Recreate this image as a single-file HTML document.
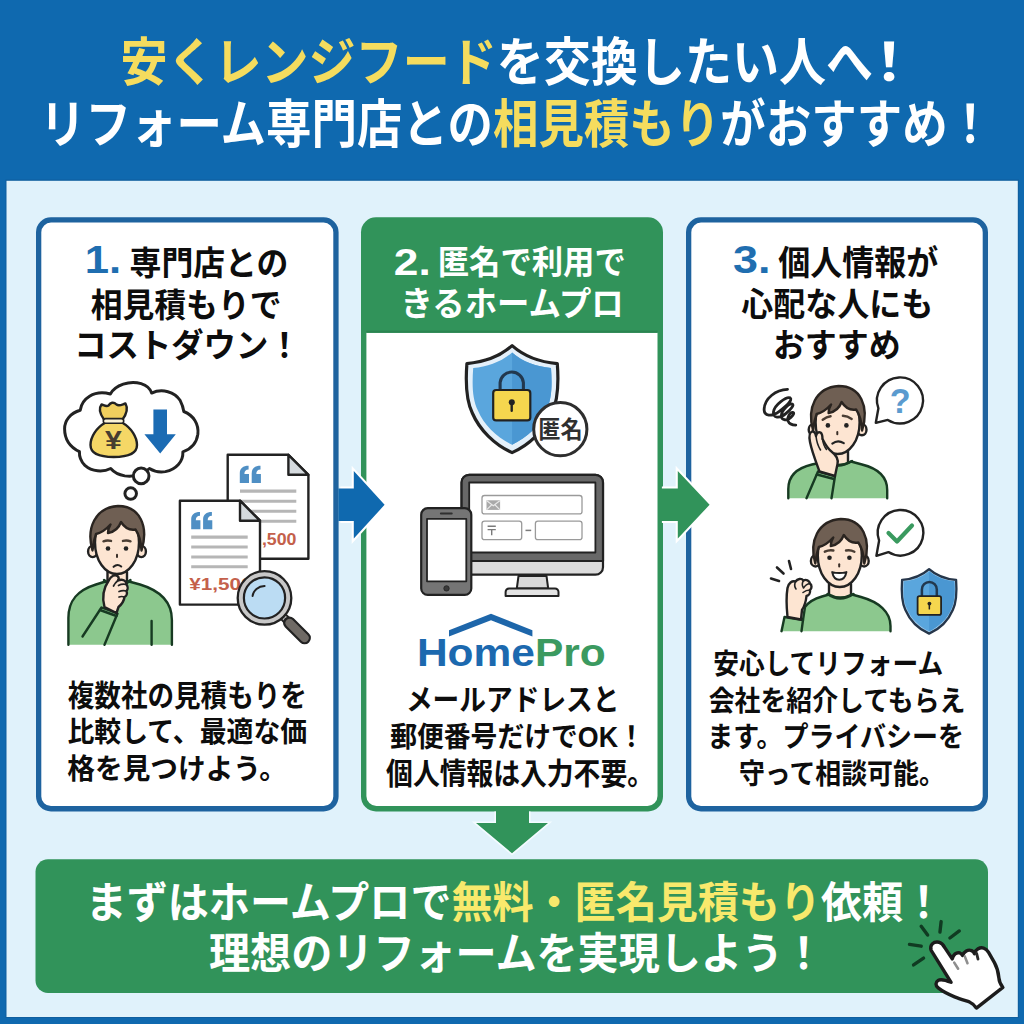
<!DOCTYPE html>
<html lang="ja">
<head>
<meta charset="utf-8">
<title>安くレンジフードを交換したい人へ！</title>
<style>
html,body{margin:0;padding:0;background:#0f69af;font-family:"Liberation Sans","Noto Sans CJK JP",sans-serif;}
svg{display:block}
svg text{font-family:"Liberation Sans","Noto Sans CJK JP",sans-serif;font-weight:bold}
</style>
</head>
<body>
<svg width="1024" height="1024" viewBox="0 0 1024 1024">
<defs>
<clipPath id="below"><rect x="400" y="811.6" width="224" height="47.6"/></clipPath>
<linearGradient id="hp" x1="0" x2="1" y1="0" y2="0"><stop offset="0" stop-color="#1b67ad"/><stop offset="1" stop-color="#1f74bb"/></linearGradient>
</defs>
<rect width="1024" height="1024" fill="#0f69af"/>
<rect x="5.5" y="179.5" width="1013.5" height="838.5" fill="#0f5f9f"/>
<rect x="6.5" y="180.8" width="1011.3" height="836.2" fill="#e0f2fb"/>
<rect x="38.65" y="219.95000000000002" width="297.3" height="588.8" rx="12.35" fill="#fff" stroke="#1e639f" stroke-width="5.3"/>
<rect x="688.65" y="219.95000000000002" width="296.7" height="588.8" rx="12.35" fill="#fff" stroke="#1e639f" stroke-width="5.3"/>
<rect x="361" y="217.3" width="302" height="594.2" rx="15" fill="#31935a"/>
<path d="M366.4 332.8H657.5V796a10 10 0 0 1-10 10H376.4a10 10 0 0 1-10-10z" fill="#fff"/>
<rect x="366.4" y="330.6" width="291.1" height="2.2" fill="#2a8450"/>
<path d="M342.4 488.6H353.8V471.1L384.6 504.8L353.8 538.5V521.0H342.4z" fill="#fff" stroke="#fff" stroke-width="4.2" stroke-linejoin="miter"/><path d="M338.4 488.6H353.8V471.1L384.6 504.8L353.8 538.5V521.0H338.4z" fill="#0f69af"/>
<path d="M664.0 488.6H677.8V471.1L709.6 504.8L677.8 538.5V521.0H664.0z" fill="#fff" stroke="#fff" stroke-width="4.2" stroke-linejoin="miter"/><path d="M660.0 488.6H677.8V471.1L709.6 504.8L677.8 538.5V521.0H660.0z" fill="#31935a"/>
<path d="M496 806H529V823H548L512 853.3L476 823H496z" fill="none" stroke="#f3fbff" stroke-width="3.2" clip-path="url(#below)"/>
<path d="M496 806H529V823H548L512 853.3L476 823H496z" fill="#31935a"/>
<rect x="35.5" y="859.3" width="952.5" height="133.6" rx="12.5" fill="#31935a"/>
<g transform="translate(56 374) scale(0.15625)" fill="#fff" stroke="#222222" stroke-width="19" stroke-linejoin="round"><path d="M155 232C165 160 240 100 348 128C380 70 470 40 545 62C585 75 605 100 612 122C680 90 760 115 795 170C808 195 815 220 818 240C880 265 915 320 908 385C900 440 865 480 812 498C815 560 770 610 700 625C660 632 625 622 598 605C560 640 500 660 440 652C400 645 370 628 350 605C300 630 230 625 185 585C160 560 148 530 150 497C95 470 55 420 55 350C55 300 90 250 155 232z"/><circle cx="545" cy="652" r="50"/><circle cx="478" cy="765" r="37"/></g><path d="M104 419.5C100 414 98.5 408.5 101.5 404.5C104.5 405.5 106.5 407 108.5 405.5C110.5 402.5 113.5 401.5 116.5 404.5C119 406.5 122 404.5 125.5 403.5C128 408 126.5 414 122.5 419.5z" fill="#f0cf5e" stroke="#222222" stroke-width="2.4" stroke-linecap="round" stroke-linejoin="round"/><path d="M105.5 422.5C96 428 90.5 437 90.5 445C90.5 453.5 98 457 113.7 457C129.5 457 137 453.5 137 445C137 437 131.5 428 122 422.5z" fill="#f5d766" stroke="#222222" stroke-width="2.4" stroke-linecap="round" stroke-linejoin="round"/><rect x="103.3" y="418.6" width="20.4" height="4.6" rx="2.3" fill="#fbf3d6" stroke="#222222" stroke-width="1.6" stroke-linecap="round" stroke-linejoin="round"/><text x="105.1" y="448.8" font-size="26.2" fill="#473d30" textLength="16.8" lengthAdjust="spacingAndGlyphs">¥</text><path d="M153.4 409.6H167V434.3H175.8L160.2 453.6L144.4 434.3H153.4z" fill="#1b6bb3"/><path d="M227.7 454.8H288.4L308.4 474.8V558.7H227.7z" fill="#fff" stroke="#222222" stroke-width="2.4" stroke-linecap="round" stroke-linejoin="round"/><path d="M288.4 454.8V474.8H308.4z" fill="#d5dade" stroke="#222222" stroke-width="2.4" stroke-linecap="round" stroke-linejoin="round"/><g fill="#4f8fc4" transform="translate(239.8 465.8)"><path d="M0 17.2V7.6C0 2.6 3.2 0 8.8 0V3.7C6 3.7 4.6 5.2 4.6 8.2H9.2V17.2z"/><path d="M0 17.2V7.6C0 2.6 3.2 0 8.8 0V3.7C6 3.7 4.6 5.2 4.6 8.2H9.2V17.2z" transform="translate(11.9 0)"/></g><path d="M240 491.1H296.3M240 501.2H296.3M240 511.3H296.3M240 521.2H296.3" stroke="#b6b6b6" stroke-width="3.1" fill="none"/><text x="261.9" y="545.2" font-size="17.3" fill="#c4604b" textLength="34.6" lengthAdjust="spacingAndGlyphs">,500</text><path d="M179.9 500.7H240L260 520.7V604.6H179.9z" fill="#fff" stroke="#222222" stroke-width="2.4" stroke-linecap="round" stroke-linejoin="round"/><path d="M240 500.7V520.7H260z" fill="#d5dade" stroke="#222222" stroke-width="2.4" stroke-linecap="round" stroke-linejoin="round"/><g fill="#4f8fc4" transform="translate(191.2 512.0)"><path d="M0 17.2V7.6C0 2.6 3.2 0 8.8 0V3.7C6 3.7 4.6 5.2 4.6 8.2H9.2V17.2z"/><path d="M0 17.2V7.6C0 2.6 3.2 0 8.8 0V3.7C6 3.7 4.6 5.2 4.6 8.2H9.2V17.2z" transform="translate(11.9 0)"/></g><path d="M191.2 537.1H247.7M191.2 547H247.7M191.2 557H247.7M191.2 566.7H247.7" stroke="#b6b6b6" stroke-width="3.1" fill="none"/><text x="189.2" y="590.4" font-size="17.3" fill="#c4604b" textLength="63.2" lengthAdjust="spacingAndGlyphs">¥1,500</text><path d="M283.6 617L289.2 622.6" fill="none" stroke="#222222" stroke-width="8.6"/><path d="M283.6 617L289.2 622.6" fill="none" stroke="#bdbdbd" stroke-width="4.6"/><path d="M289.3 622.7L304.6 638" fill="none" stroke="#222222" stroke-width="12.6" stroke-linecap="round"/><path d="M289.6 623L304.6 638" fill="none" stroke="#6f6a65" stroke-width="8.2" stroke-linecap="round"/><circle cx="264.5" cy="597.9" r="26.8" fill="#c8c8c8" stroke="#222222" stroke-width="2.3" stroke-linecap="round" stroke-linejoin="round"/><circle cx="264.5" cy="597.9" r="20.6" fill="#bbdcf3" stroke="#222222" stroke-width="2.2" stroke-linecap="round" stroke-linejoin="round"/><path d="M252.6 596C253.3 590.3 258.3 586.2 264.6 586" fill="none" stroke="#222222" stroke-width="2.0" stroke-linecap="round" stroke-linejoin="round"/><path d="M107.5 568V586H127V568z" fill="#fde5d2"/><path d="M107.5 572V584M127 572V583" fill="none" stroke="#222222" stroke-width="2.4" stroke-linecap="round" stroke-linejoin="round"/><g transform="translate(117 548.5) scale(1.0)"><ellipse cx="-24.3" cy="3.0" rx="4.6" ry="5.6" fill="#fde5d2" stroke="#222222" stroke-width="2.4" stroke-linecap="round" stroke-linejoin="round"/><ellipse cx="24.3" cy="3.0" rx="4.6" ry="5.6" fill="#fde5d2" stroke="#222222" stroke-width="2.4" stroke-linecap="round" stroke-linejoin="round"/><path d="M-22 -6C-22 12-12 25.5 0 25.5C12 25.5 22 12 22 -6C22 -24 12 -31 0 -31C-12 -31 -22 -24 -22 -6z" fill="#fde5d2" stroke="#222222" stroke-width="2.4" stroke-linecap="round" stroke-linejoin="round"/><path d="M-24.5 2C-31 -20-22 -41 1 -42.5C23 -42.5 32 -22 24.5 2C24 -7 22 -14 18.5 -19C13 -18 7.5 -21 4 -26.5C2 -21-3 -16.5-9 -15.5C-9 -18.5-8 -21.5-6.5 -24C-11 -19-16.5 -15.5-21 -14.5C-23 -9-24 -3.5-24.5 2z" fill="#6f5f53" stroke="#2a2420" stroke-width="2.4" stroke-linecap="round" stroke-linejoin="round"/><circle cx="-9" cy="0" r="2.3" fill="#222222"/><circle cx="9" cy="0" r="2.3" fill="#222222"/><path d="M-13.5 -7.2Q-10 -8.6-6 -7.6M6 -7.6Q10 -8.6 13.5 -7.2" fill="none" stroke="#4b3e34" stroke-width="2.5" stroke-linecap="round" stroke-linejoin="round"/><path d="M0 6.2V8.6" fill="none" stroke="#3a2f28" stroke-width="2.0" stroke-linecap="round" stroke-linejoin="round"/><path d="M-3.4 18.3Q0.3 14.8 4.2 18" fill="none" stroke="#222222" stroke-width="2.1" stroke-linecap="round" stroke-linejoin="round"/></g><path d="M68.4 644.8V618C68.4 600 78 590 96 584.5L105.5 581.5Q117 590 129 581.5L140 584.5C160 590.5 171.9 601 171.9 620V644.8z" fill="#8cc88e"/><path d="M68.4 644.8V618C68.4 600 78 590 96 584.5L105.5 581.5Q117 590 129 581.5L140 584.5C160 590.5 171.9 601 171.9 620V644.8" fill="none" stroke="#173a22" stroke-width="2.4" stroke-linecap="round" stroke-linejoin="round"/><path d="M151.6 621V644.8" fill="none" stroke="#173a22" stroke-width="2.4" stroke-linecap="round" stroke-linejoin="round"/><path d="M104 580Q117 591.5 130.5 580" fill="none" stroke="#173a22" stroke-width="2.4" stroke-linecap="round" stroke-linejoin="round"/><path d="M82.5 636.5L101.5 607.5L117.5 613.5L104.5 644.8" fill="#8cc88e" stroke="#173a22" stroke-width="2.4" stroke-linecap="round" stroke-linejoin="round"/><path d="M100 610L116.5 616" fill="none" stroke="#173a22" stroke-width="2.4" stroke-linecap="round" stroke-linejoin="round"/><path d="M104.5 607C102 598 103.5 588 109 580C111 576 115 574 117.5 576C119 577 119 579 118 580.5C122 578.5 126.5 580.5 126.5 584.5C128 586.5 128 589.5 126.5 591C127.5 593.5 126.5 596 124.5 597C124 601 121.5 604.5 118.5 607L116.5 613z" fill="#fde5d2" stroke="#222222" stroke-width="2.4" stroke-linecap="round" stroke-linejoin="round"/><path d="M118 580.5C116 582 114.5 584 113.5 586M126.5 584.5Q122 583.5 118.5 585.5M126.5 591Q122.5 590 119 591.5M124.5 597Q121.5 596 119 597" fill="none" stroke="#222222" stroke-width="1.7" stroke-linecap="round" stroke-linejoin="round"/>
<path d="M512.1 345.6C499.9 356.3 483.6 362.2 466.9 363.6C465.5 382.0 465.5 399.1 472.3 413.0C479.6 430.1 494.9 445.1 512.1 452.6C529.3 445.1 544.6 430.1 551.9 413.0C558.7 399.1 558.7 382.0 557.3 363.6C540.6 362.2 524.3 356.3 512.1 345.6z" fill="#e4f0fa" stroke="#222222" stroke-width="3.2" stroke-linecap="round" stroke-linejoin="round"/><path d="M512.1 352.6C501.6 361.8 487.6 366.9 473.2 368.1C472.1 383.9 472.1 398.7 477.9 410.6C484.1 425.3 497.3 438.2 512.1 444.7C526.9 438.2 540.1 425.3 546.3 410.6C552.1 398.7 552.1 383.9 551.0 368.1C536.6 366.9 522.6 361.8 512.1 352.6z" fill="#5aa6dd"/><clipPath id="sh512"><rect x="512.1" y="345.6" width="90.4" height="107.0"/></clipPath><path d="M512.1 352.6C501.6 361.8 487.6 366.9 473.2 368.1C472.1 383.9 472.1 398.7 477.9 410.6C484.1 425.3 497.3 438.2 512.1 444.7C526.9 438.2 540.1 425.3 546.3 410.6C552.1 398.7 552.1 383.9 551.0 368.1C536.6 366.9 522.6 361.8 512.1 352.6z" fill="#4a97d2" clip-path="url(#sh512)"/><path d="M500.1 391.0V382.7A11.7 11.7 0 0 1 523.4 382.7V391.0" fill="none" stroke="#22384e" stroke-width="3.08" stroke-linecap="round" stroke-linejoin="round"/><rect x="493.2" y="390.0" width="37.1" height="30.4" rx="3.0" fill="#f5d64e" stroke="#222222" stroke-width="2.2" stroke-linecap="round" stroke-linejoin="round"/><circle cx="511.8" cy="402.2" r="3.0" fill="#222222"/><rect x="510.5" y="402.2" width="2.4" height="9.7" rx="1.2" fill="#222222"/><circle cx="560.3" cy="429.2" r="26.6" fill="#fff" stroke="#2e2e2e" stroke-width="3.0" stroke-linecap="round" stroke-linejoin="round"/><text x="538.25" y="438.4" font-size="23.6" fill="#303030" textLength="44.3" lengthAdjust="spacingAndGlyphs">匿名</text><rect x="461.6" y="474.9" width="141.4" height="99.8" rx="7.5" fill="#dcdcdc" stroke="#222222" stroke-width="2.2" stroke-linecap="round" stroke-linejoin="round"/><path d="M461.6 561V482.4A7.5 7.5 0 0 1 469.1 474.9H595.5A7.5 7.5 0 0 1 603 482.4V561z" fill="#686868" stroke="#222222" stroke-width="2.2" stroke-linecap="round" stroke-linejoin="round"/><rect x="469.2" y="482.5" width="126.2" height="70" fill="#fff" stroke="#222222" stroke-width="1.8" stroke-linecap="round" stroke-linejoin="round"/><path d="M518.5 576L516.8 588.5H548.2L546.5 576z" fill="#d9d9d9" stroke="#222222" stroke-width="2.0" stroke-linecap="round" stroke-linejoin="round"/><path d="M509 588.5H555A3.5 3.5 0 0 1 558.5 592V595.9H505.6V592A3.5 3.5 0 0 1 509 588.5z" fill="#e3e3e3" stroke="#222222" stroke-width="2.0" stroke-linecap="round" stroke-linejoin="round"/><rect x="482" y="495.5" width="100" height="18.4" rx="2.5" fill="#fff" stroke="#9a9a9a" stroke-width="1.3"/><rect x="482" y="521.1" width="39.7" height="18.6" rx="2.5" fill="#fff" stroke="#9a9a9a" stroke-width="1.3"/><rect x="535.4" y="521.1" width="46.6" height="18.6" rx="2.5" fill="#fff" stroke="#9a9a9a" stroke-width="1.3"/><rect x="486.5" y="500.3" width="13.6" height="9.6" fill="#a9a9a9"/><path d="M486.8 500.7L493.3 505.8L499.8 500.7M486.8 509.6L491.5 505M499.8 509.6L495.1 505" stroke="#e9e9e9" stroke-width="1.1" fill="none"/><path d="M487.6 526.3H495.8M487.6 529.6H495.8M491.7 529.6V535.2" stroke="#7a7a7a" stroke-width="1.4" fill="none"/><path d="M525.5 530.4H531.2" stroke="#7a7a7a" stroke-width="1.5"/><rect x="421.2" y="508.2" width="50.1" height="86.7" rx="6.5" fill="#757575" stroke="#222222" stroke-width="2.2" stroke-linecap="round" stroke-linejoin="round"/><rect x="427" y="518.8" width="39.3" height="62.5" fill="#fff" stroke="#222222" stroke-width="1.8" stroke-linecap="round" stroke-linejoin="round"/><path d="M440.8 513.5H451.8" stroke="#2f2f2f" stroke-width="1.8" stroke-linecap="round"/><circle cx="446.5" cy="588.4" r="2.7" fill="#3a3a3a" stroke="#222" stroke-width="0.8"/><path d="M449 636.6V630.2L491 613.8L532.4 630.2V636.6L491 620.3z" fill="#1d66aa"/>
<path d="M828 448V466H848V448z" fill="#fde5d2"/><path d="M848 450V462" fill="none" stroke="#222222" stroke-width="2.4" stroke-linecap="round" stroke-linejoin="round"/><path d="M788.3 498.2V489C788.3 476 797 468 812 464.5L826 461.5Q838 468.5 851 461.5L862 464.5C878 468.5 887.2 477 887.2 490V498.2z" fill="#8cc88e"/><path d="M788.3 498.2V489C788.3 476 797 468 812 464.5L826 461.5Q838 468.5 851 461.5L862 464.5C878 468.5 887.2 477 887.2 490V498.2" fill="none" stroke="#173a22" stroke-width="2.4" stroke-linecap="round" stroke-linejoin="round"/><path d="M824 461Q838 470 852 461" fill="none" stroke="#173a22" stroke-width="2.4" stroke-linecap="round" stroke-linejoin="round"/><g transform="translate(837.6 428.5) scale(1.0)"><ellipse cx="-24.3" cy="1.2" rx="4.6" ry="5.6" fill="#fde5d2" stroke="#222222" stroke-width="2.4" stroke-linecap="round" stroke-linejoin="round"/><ellipse cx="24.3" cy="1.2" rx="4.6" ry="5.6" fill="#fde5d2" stroke="#222222" stroke-width="2.4" stroke-linecap="round" stroke-linejoin="round"/><path d="M-22 -6C-22 12-12 25.5 0 25.5C12 25.5 22 12 22 -6C22 -24 12 -31 0 -31C-12 -31 -22 -24 -22 -6z" fill="#fde5d2" stroke="#222222" stroke-width="2.4" stroke-linecap="round" stroke-linejoin="round"/><path d="M-24.5 2C-31 -20-22 -41 1 -42.5C23 -42.5 32 -22 24.5 2C24 -7 22 -14 18.5 -19C13 -18 7.5 -21 4 -26.5C2 -21-3 -16.5-9 -15.5C-9 -18.5-8 -21.5-6.5 -24C-11 -19-16.5 -15.5-21 -14.5C-23 -9-24 -3.5-24.5 2z" fill="#6f5f53" stroke="#2a2420" stroke-width="2.4" stroke-linecap="round" stroke-linejoin="round"/><circle cx="-9.7" cy="-3.1" r="2.3" fill="#222222"/><circle cx="8.8" cy="-3.1" r="2.3" fill="#222222"/><path d="M-14.9 -8.7Q-11 -11.6-7 -12.2M5.3 -12.7Q10 -12.4 14.1 -9.6" fill="none" stroke="#4b3e34" stroke-width="2.4" stroke-linecap="round" stroke-linejoin="round"/><path d="M-0.3 3.4V5.8" fill="none" stroke="#3a2f28" stroke-width="2.0" stroke-linecap="round" stroke-linejoin="round"/><path d="M-5.3 15.1Q0.2 10.8 6.2 14.7" fill="none" stroke="#222222" stroke-width="2.1" stroke-linecap="round" stroke-linejoin="round"/></g><path d="M806.5 498.2L818 471.5L835 476L831.5 498.2" fill="#8cc88e" stroke="#173a22" stroke-width="2.4" stroke-linecap="round" stroke-linejoin="round"/><path d="M817 474.5L834 479" fill="none" stroke="#173a22" stroke-width="2.4" stroke-linecap="round" stroke-linejoin="round"/><path d="M819.5 471.5C816 462 812 452 810 442C809 437 809.5 432.5 812 431.5C814 431 815.5 433 816 436C816.5 433 818.5 431.5 820.5 432.5C822 433.5 822.5 436 822.5 439C825 444 828 449 832 452C836 455 838.5 459 837.5 464L835 476z" fill="#fde5d2" stroke="#222222" stroke-width="2.4" stroke-linecap="round" stroke-linejoin="round"/><path d="M816 436C816.5 441 818 446 820.5 450M822.5 439C823 443 824.5 447 826.5 449.5" fill="none" stroke="#222222" stroke-width="1.6" stroke-linecap="round" stroke-linejoin="round"/><path transform="translate(755 375) scale(0.17578)" d="M185 82C120 85 55 130 52 195C50 235 95 240 140 205C185 170 215 140 200 130C180 120 110 170 105 210C100 245 140 250 175 220C205 195 225 170 212 165C195 160 150 200 150 230C150 260 185 262 205 240C220 225 225 215 215 213C200 212 180 240 188 262C195 280 215 285 232 285" fill="none" stroke="#222222" stroke-width="16" stroke-linecap="round" stroke-linejoin="round"/><path d="M878.4 408.3L875.8 422.8L887.8 419.9A23.0 23.0 0 1 0 878.4 408.3z" fill="#fff" stroke="#222222" stroke-width="2.4" stroke-linecap="round" stroke-linejoin="round"/><text x="889.8" y="413.2" font-size="34.2" fill="#5b9bcf">?</text><path d="M829 582V600H851V582z" fill="#fde5d2"/><path d="M829 584V596M851 584V596" fill="none" stroke="#222222" stroke-width="2.4" stroke-linecap="round" stroke-linejoin="round"/><path d="M781.5 631.2L784.5 617L803 620L805 607C809 601.5 815 598.5 822 596.5L829 594.5Q840 600.5 852 594.5L861 597C879 602 890.5 612 890.5 626V631.2z" fill="#8cc88e"/><path d="M781.5 631.2L784.5 617L803 620L805 607C809 601.5 815 598.5 822 596.5L829 594.5Q840 600.5 852 594.5L861 597C879 602 890.5 612 890.5 626V631.2" fill="none" stroke="#173a22" stroke-width="2.4" stroke-linecap="round" stroke-linejoin="round"/><path d="M827.5 594Q840 603 853.5 594" fill="none" stroke="#173a22" stroke-width="2.4" stroke-linecap="round" stroke-linejoin="round"/><path d="M803 620L801.5 631.2" fill="none" stroke="#173a22" stroke-width="2.4" stroke-linecap="round" stroke-linejoin="round"/><g transform="translate(839.8 561.5) scale(1.0)"><ellipse cx="-24.3" cy="-0.6" rx="4.6" ry="5.6" fill="#fde5d2" stroke="#222222" stroke-width="2.4" stroke-linecap="round" stroke-linejoin="round"/><ellipse cx="24.3" cy="-0.6" rx="4.6" ry="5.6" fill="#fde5d2" stroke="#222222" stroke-width="2.4" stroke-linecap="round" stroke-linejoin="round"/><path d="M-22 -6C-22 12-12 25.5 0 25.5C12 25.5 22 12 22 -6C22 -24 12 -31 0 -31C-12 -31 -22 -24 -22 -6z" fill="#fde5d2" stroke="#222222" stroke-width="2.4" stroke-linecap="round" stroke-linejoin="round"/><path d="M-24.5 2C-31 -20-22 -41 1 -42.5C23 -42.5 32 -22 24.5 2C24 -7 22 -14 18.5 -19C13 -18 7.5 -21 4 -26.5C2 -21-3 -16.5-9 -15.5C-9 -18.5-8 -21.5-6.5 -24C-11 -19-16.5 -15.5-21 -14.5C-23 -9-24 -3.5-24.5 2z" fill="#6f5f53" stroke="#2a2420" stroke-width="2.4" stroke-linecap="round" stroke-linejoin="round"/><circle cx="-10.3" cy="-3.8" r="2.3" fill="#222222"/><circle cx="9.6" cy="-3.8" r="2.3" fill="#222222"/><path d="M-15 -9.8Q-10.5 -12-6.4 -11M6.2 -11Q10.5 -12 14.6 -9.8" fill="none" stroke="#4b3e34" stroke-width="2.4" stroke-linecap="round" stroke-linejoin="round"/><path d="M-0.6 2.8V5" fill="none" stroke="#3a2f28" stroke-width="2.0" stroke-linecap="round" stroke-linejoin="round"/><path d="M-7.6 10.6Q-0.5 12.6 6.6 10.6Q5.2 18.2-0.6 18.2Q-6.2 18.2-7.6 10.6z" fill="#fff" stroke="#222222" stroke-width="2.0" stroke-linecap="round" stroke-linejoin="round"/></g><path d="M787.5 617C786.5 607 786 597 787.5 588C788.5 583 792 580.5 795.5 581.5C797.5 578.5 801.5 578 803.5 580.5C806 579 809.5 580.5 810 583.5C812 585 812 588.5 810 590C810.5 593 809 595.5 806.5 596C806 601 804.5 606 802 610L801 619.5z" fill="#fde5d2" stroke="#222222" stroke-width="2.4" stroke-linecap="round" stroke-linejoin="round"/><path d="M795.5 581.5C794.5 584 794.5 587 796 589M803.5 580.5C802 583 802 586 803.5 588M810 583.5Q806 584 803.5 588M810 590Q806 590 803 592.5" fill="none" stroke="#222222" stroke-width="1.6" stroke-linecap="round" stroke-linejoin="round"/><path d="M771 578.5L779 581M777 567.5L783.5 573.5M789 561L791 569" fill="none" stroke="#222222" stroke-width="2.6" stroke-linecap="round" stroke-linejoin="round"/><path d="M879.1 540.6L876.4 555.8L888.4 552.1A22.8 22.8 0 1 0 879.1 540.6z" fill="#fff" stroke="#222222" stroke-width="2.4" stroke-linecap="round" stroke-linejoin="round"/><path d="M888.5 533L897 541.5L912 525.5" fill="none" stroke="#3a9a5f" stroke-width="4.2" stroke-linecap="round" stroke-linejoin="round"/><path d="M929.1 569.1C921.8 575.6 912.1 579.1 902.1 579.9C901.3 591.0 901.3 601.4 905.3 609.7C909.7 620.1 918.8 629.1 929.1 633.6C939.4 629.1 948.5 620.1 952.9 609.7C956.9 601.4 956.9 591.0 956.1 579.9C946.1 579.1 936.4 575.6 929.1 569.1z" fill="#9cc8ea" stroke="#26364a" stroke-width="2.3" stroke-linecap="round" stroke-linejoin="round"/><path d="M929.1 571.2C922.3 577.2 913.3 580.5 904.0 581.3C903.2 591.6 903.2 601.2 907.0 609.0C911.0 618.6 919.6 627.0 929.1 631.2C938.6 627.0 947.2 618.6 951.2 609.0C955.0 601.2 955.0 591.6 954.2 581.3C944.9 580.5 935.9 577.2 929.1 571.2z" fill="#5aa6dd"/><clipPath id="sh929"><rect x="929.1" y="569.1" width="54" height="64.5"/></clipPath><path d="M929.1 571.2C922.3 577.2 913.3 580.5 904.0 581.3C903.2 591.6 903.2 601.2 907.0 609.0C911.0 618.6 919.6 627.0 929.1 631.2C938.6 627.0 947.2 618.6 951.2 609.0C955.0 601.2 955.0 591.6 954.2 581.3C944.9 580.5 935.9 577.2 929.1 571.2z" fill="#4a97d2" clip-path="url(#sh929)"/><path d="M921.9 597.1V589.4A7.4 7.4 0 0 1 936.8 589.4V597.1" fill="none" stroke="#22384e" stroke-width="2.52" stroke-linecap="round" stroke-linejoin="round"/><rect x="917.6" y="596.1" width="23.5" height="18.7" rx="1.9" fill="#f5d64e" stroke="#222222" stroke-width="1.8" stroke-linecap="round" stroke-linejoin="round"/><circle cx="929.4" cy="603.6" r="1.9" fill="#222222"/><rect x="928.6" y="603.6" width="1.5" height="6.0" rx="0.7" fill="#222222"/>
<g transform="translate(896 904) scale(0.11719)"><path d="M215 190L270 265M385 150L375 240M540 230L460 290M115 345L215 360M150 520L235 462" fill="none" stroke="#103b22" stroke-width="29" stroke-linecap="round"/><path d="M300 395C285 350 320 318 365 326C392 332 405 352 416 372L480 468C488 432 515 408 545 418C556 422 563 430 568 440C580 405 615 385 645 398C658 404 665 413 670 424C680 385 715 368 748 376C770 382 780 395 790 412L840 500C862 540 874 580 878 630C880 665 895 690 912 712L686 888C672 866 655 848 630 838C590 824 545 810 500 792C450 772 400 748 360 716C335 696 335 668 360 652C380 640 420 648 470 668z" fill="#fff" stroke="#1c1c1c" stroke-width="29" stroke-linejoin="round"/><path d="M497 500L530 552M587 447L610 505" fill="none" stroke="#8e8e8e" stroke-width="22" stroke-linecap="round"/><path d="M688 422L700 470" fill="none" stroke="#2a2a2a" stroke-width="24" stroke-linecap="round"/></g>
<text x="120.4" y="80.8" font-size="51.9" fill="#ffffff" textLength="752.7" lengthAdjust="spacingAndGlyphs"><tspan fill="#f5dc5e">安くレンジフード</tspan>を交換したい人へ</text>
<text x="859.1" y="80.8" font-size="51.9" fill="#ffffff" textLength="60.2" lengthAdjust="spacingAndGlyphs">！</text>
<text x="40" y="142.5" font-size="51.9" fill="#ffffff" textLength="953.1" lengthAdjust="spacingAndGlyphs">リフォーム専門店との<tspan fill="#f5dc5e">相見積もり</tspan>がおすすめ！</text>
<text x="84.7" y="273" font-size="38.5" fill="#1f6eb0" textLength="36.4" lengthAdjust="spacingAndGlyphs">1.</text>
<text x="129.6" y="274.5" font-size="33.5" fill="#0d0d0d" textLength="158.8" lengthAdjust="spacingAndGlyphs">専門店との</text>
<text x="90.7" y="316.8" font-size="33.4" fill="#0d0d0d" textLength="190.8" lengthAdjust="spacingAndGlyphs">相見積もりで</text>
<text x="74.2" y="357.2" font-size="33.4" fill="#0d0d0d" textLength="226.5" lengthAdjust="spacingAndGlyphs">コストダウン！</text>
<text x="67.8" y="705.8" font-size="29.2" fill="#0d0d0d" textLength="239" lengthAdjust="spacingAndGlyphs">複数社の見積もりを</text>
<text x="67.5" y="742" font-size="28.6" fill="#0d0d0d" textLength="239.7" lengthAdjust="spacingAndGlyphs">比較して、最適な価</text>
<text x="67.3" y="778.8" font-size="28.6" fill="#0d0d0d" textLength="219.7" lengthAdjust="spacingAndGlyphs">格を見つけよう。</text>
<text x="393.8" y="274.5" font-size="37.4" fill="#ffffff" textLength="36.9" lengthAdjust="spacingAndGlyphs">2.</text>
<text x="437.7" y="274.2" font-size="33.2" fill="#ffffff" textLength="188.1" lengthAdjust="spacingAndGlyphs">匿名で利用で</text>
<text x="400.6" y="315.8" font-size="33.8" fill="#ffffff" textLength="223.1" lengthAdjust="spacingAndGlyphs">きるホームプロ</text>
<text x="405.9" y="710" font-size="29.3" fill="#0d0d0d" textLength="213.6" lengthAdjust="spacingAndGlyphs">メールアドレスと</text>
<text x="390.2" y="747.1" font-size="28.9" fill="#0d0d0d" textLength="254.7" lengthAdjust="spacingAndGlyphs">郵便番号だけでOK！</text>
<text x="386.1" y="783.9" font-size="29.7" fill="#0d0d0d" textLength="267.9" lengthAdjust="spacingAndGlyphs">個人情報は入力不要。</text>
<text x="416.9" y="666" font-size="39.6" fill="#1c69af" textLength="188.8" lengthAdjust="spacingAndGlyphs">Home<tspan fill="#3b9a60">Pro</tspan></text>
<text x="733.1" y="273.3" font-size="38.2" fill="#1f6eb0" textLength="37.5" lengthAdjust="spacingAndGlyphs">3.</text>
<text x="778.2" y="274.5" font-size="34.2" fill="#0d0d0d" textLength="160.1" lengthAdjust="spacingAndGlyphs">個人情報が</text>
<text x="741.3" y="316" font-size="33.5" fill="#0d0d0d" textLength="192" lengthAdjust="spacingAndGlyphs">心配な人にも</text>
<text x="772.9" y="356.6" font-size="33.5" fill="#0d0d0d" textLength="127.7" lengthAdjust="spacingAndGlyphs">おすすめ</text>
<text x="713.2" y="674.2" font-size="28.4" fill="#0d0d0d" textLength="230" lengthAdjust="spacingAndGlyphs">安心してリフォーム</text>
<text x="708.7" y="711" font-size="28.4" fill="#0d0d0d" textLength="256.7" lengthAdjust="spacingAndGlyphs">会社を紹介してもらえ</text>
<text x="707.2" y="746.8" font-size="28.4" fill="#0d0d0d" textLength="256.8" lengthAdjust="spacingAndGlyphs">ます。プライバシーを</text>
<text x="738.9" y="784.2" font-size="28.4" fill="#0d0d0d" textLength="205.9" lengthAdjust="spacingAndGlyphs">守って相談可能。</text>
<text x="85.7" y="917.6" font-size="43.2" fill="#ffffff" textLength="858.4" lengthAdjust="spacingAndGlyphs">まずはホームプロで<tspan fill="#f8e96c">無料・匿名見積もり</tspan>依頼！</text>
<text x="209" y="969.2" font-size="43" fill="#ffffff" textLength="615.2" lengthAdjust="spacingAndGlyphs">理想のリフォームを実現しよう！</text>
</svg>
</body>
</html>
